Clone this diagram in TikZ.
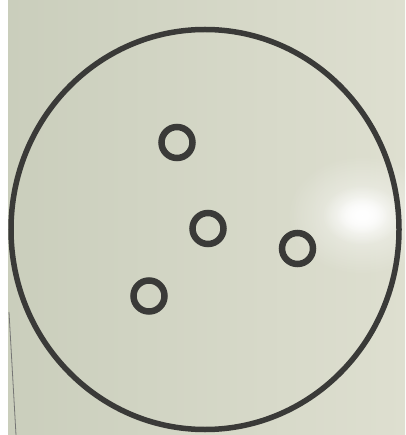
\documentclass[tikz,border=0pt]{standalone}
\usetikzlibrary{fadings}
\definecolor{paperL}{RGB}{202,206,188}
\definecolor{paperR}{RGB}{222,223,208}
\definecolor{ink}{RGB}{58,58,56}
\tikzfading[name=glow, inner color=transparent!0, outer color=transparent!100]
\tikzset{
  hole/.style={circle, draw=ink, line width=6.5pt, minimum size=31pt, inner sep=0pt},
  rim/.style={draw=ink, line width=5.5pt}
}
\begin{document}
\begin{tikzpicture}[x=1pt,y=-1pt]
\useasboundingbox (0,0) rectangle (405,435);
% paper
\fill[white] (0,0) rectangle (405,435);
\shade[left color=paperL, right color=paperR] (8,0) rectangle (405,435);
% glare
\fill[white, opacity=0.6, path fading=glow] (362,215) ellipse (75 and 60);
\fill[white, path fading=glow] (362,215) ellipse (40 and 30);
\fill[white, path fading=glow] (362,215) ellipse (26 and 19);
% paper edge line
\draw[ink!70, line width=0.8pt] (9,312) -- (16,435);
% big circle
\draw[rim] (205,229.5) ellipse (194 and 200);
% holes
\node[hole] (h1) at (177,142.5) {};
\node[hole] (h2) at (208,228.5) {};
\node[hole] (h3) at (297.5,248.5) {};
\node[hole] (h4) at (149,296) {};
\end{tikzpicture}
\end{document}
